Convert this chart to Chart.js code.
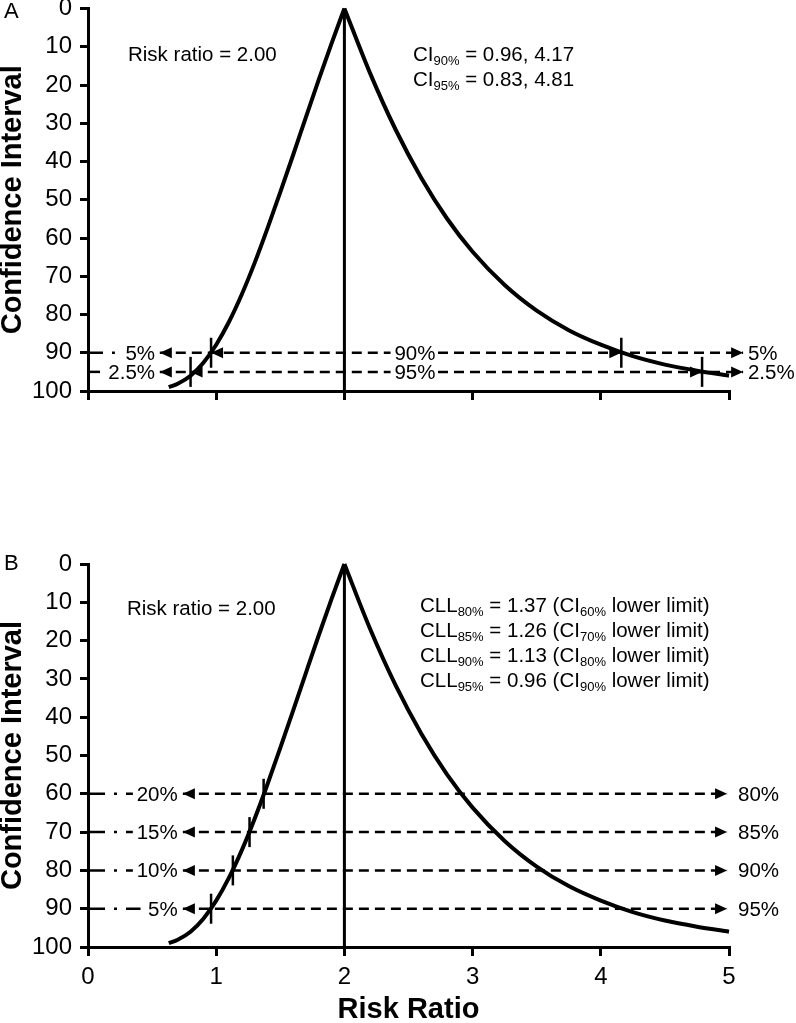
<!DOCTYPE html>
<html>
<head>
<meta charset="utf-8">
<script src="https://cdn.jsdelivr.net/npm/chart.js@4.4.1/dist/chart.umd.min.js"></script>
<style>
  html, body { margin: 0; padding: 0; background: #fff; }
  body { width: 796px; height: 1023px; position: relative; overflow: hidden; }
  canvas { position: absolute; left: 0; }
  #chartA { top: -9px; }
  #chartB { top: 440px; }
</style>
</head>
<body>
<canvas id="chartA" width="796" height="449"></canvas>
<canvas id="chartB" width="796" height="583"></canvas>
<script>
// curve: confidence level (%) against risk ratio
const curveLeftX  = [0.63, 0.7, 0.8, 0.9, 1.0, 1.1, 1.2, 1.3, 1.4, 1.5, 1.6, 1.7, 1.8, 1.9, 2.0];
const curveLeftY  = [99.0, 98.1, 96.0, 92.6, 87.9, 81.9, 74.7, 66.5, 57.5, 48.0, 38.3, 28.4, 18.6, 9.1, 0];
const curveRightX = [2.0, 2.2, 2.4, 2.6, 2.8, 3.0, 3.25, 3.5, 3.75, 4.0, 4.25, 4.5, 4.75, 5.0];
const curveRightY = [0, 16.9, 31.7, 44.3, 54.9, 63.6, 72.3, 79.0, 84.1, 87.9, 90.9, 93.1, 94.7, 96.0];

const riskRatio = 2.0;
const xTicks = [0, 1, 2, 3, 4, 5];
const yTicks = [0, 10, 20, 30, 40, 50, 60, 70, 80, 90, 100];

// panel A: two-sided intervals
const levelsA = [90, 95];
const lowerA = [0.96, 0.80];
const upperA = [4.16, 4.79];
const tailLabelsA = ["5%", "2.5%"];
const centreLabelsA = ["90%", "95%"];
const ciTextA = [["90%", " = 0.96, 4.17"], ["95%", " = 0.83, 4.81"]];

// panel B: confidence lower limits
const levelsB = [60, 70, 80, 90];
const cllB = [1.37, 1.26, 1.13, 0.96];
const leftLabelsB = ["20%", "15%", "10%", "5%"];
const rightLabelsB = ["80%", "85%", "90%", "95%"];
const cllTextB = [["80%", "1.37", "60%"], ["85%", "1.26", "70%"], ["90%", "1.13", "80%"], ["95%", "0.96", "90%"]];

// where the arrows / labels sit (in axis units)
const geoA = { leadEnd: [0.21, 0.094], arrowL: 0.56, labelL: 0.523, gapL: 2.36, gapR: 2.73, centre: 2.55, arrowR: 5.11, labelR: 5.148 };
const geoB = { leadEnd: [0.35, 0.35, 0.35, 0.41], arrowL: 0.74, labelL: 0.70, arrowR: 4.985, labelR: 5.07 };

const FONT = '"Liberation Sans", Arial, Helvetica, sans-serif';
Chart.defaults.font.family = FONT;
Chart.defaults.color = '#000';

const pts = (xs, ys) => xs.map((x, i) => ({ x: x, y: ys[i] }));

function seg(data, extra) {
  return Object.assign({
    data: data, showLine: true, borderColor: '#000', borderWidth: 2.5,
    pointRadius: 0, clip: false, fill: false
  }, extra || {});
}

function drawRich(ctx, parts, px, py, align) {
  const main = '20.5px ' + FONT;
  const sub = '13px ' + FONT;
  const items = parts.map(p => typeof p === 'string' ? { t: p, f: main, dy: 0 } : { t: p.sub, f: sub, dy: 4 });
  let w = 0;
  items.forEach(it => { ctx.font = it.f; it.w = ctx.measureText(it.t).width; w += it.w; });
  let cx = align === 'right' ? px - w : align === 'center' ? px - w / 2 : px;
  ctx.textAlign = 'left';
  ctx.textBaseline = 'alphabetic';
  items.forEach(it => { ctx.font = it.f; ctx.fillText(it.t, cx, py + 7 + it.dy); cx += it.w; });
}

const overlay = {
  id: 'overlay',
  afterDatasetsDraw(chart, args, opts) {
    const ctx = chart.ctx, xs = chart.scales.x, ys = chart.scales.y;
    ctx.save();
    ctx.fillStyle = '#000';
    (opts.arrows || []).forEach(a => {
      const px = xs.getPixelForValue(a.x), py = ys.getPixelForValue(a.y);
      ctx.beginPath();
      ctx.moveTo(px, py);
      ctx.lineTo(px - a.dir * 12, py - 5.5);
      ctx.lineTo(px - a.dir * 12, py + 5.5);
      ctx.closePath();
      ctx.fill();
    });
    (opts.texts || []).forEach(t => {
      drawRich(ctx, t.parts, xs.getPixelForValue(t.x), ys.getPixelForValue(t.y), t.align);
    });
    if (opts.panel) {
      ctx.font = '22px ' + FONT;
      ctx.textAlign = 'left';
      ctx.textBaseline = 'middle';
      ctx.fillText(opts.panel.text, 4, opts.panel.y);
    }
    ctx.restore();
  }
};

function scales(xLabels, xHeight) {
  const grid = { drawOnChartArea: false, drawTicks: true, color: '#000', lineWidth: 3 };
  return {
    x: {
      type: 'linear', min: 0, max: 5,
      afterBuildTicks: s => { s.ticks = xTicks.map(v => ({ value: v })); },
      afterFit: s => { s.height = xHeight; },
      ticks: { font: { size: 24 }, padding: 7, maxRotation: 0, autoSkip: false,
               callback: v => xLabels ? String(v) : '' },
      grid: Object.assign({ tickLength: 9 }, grid),
      border: { display: true, color: '#000', width: 3 },
      title: { display: xLabels, text: 'Risk Ratio', color: '#000',
               font: { size: 29, weight: 'bold', lineHeight: 0.9 }, padding: 0 }
    },
    y: {
      type: 'linear', min: 0, max: 100, reverse: true,
      afterBuildTicks: s => { s.ticks = yTicks.map(v => ({ value: v })); },
      afterFit: s => { s.width = 88; s.paddingTop = 0; s.paddingBottom = 0; },
      ticks: { font: { size: 24 }, padding: 8, autoSkip: false },
      grid: Object.assign({ tickLength: 8 }, grid),
      border: { display: true, color: '#000', width: 3 },
      title: { display: true, text: 'Confidence Interval', color: '#000',
               font: { size: 29, weight: 'bold', lineHeight: 0.9 }, padding: 0 }
    }
  };
}

function baseDatasets() {
  return [
    seg(pts(curveLeftX, curveLeftY), { borderWidth: 4, cubicInterpolationMode: 'monotone' }),
    seg(pts(curveRightX, curveRightY), { borderWidth: 4, cubicInterpolationMode: 'monotone' }),
    seg([{ x: riskRatio, y: 0 }, { x: riskRatio, y: 100 }], { borderWidth: 3 })
  ];
}

// ---------- panel A ----------
const dsA = baseDatasets();
dsA.push({
  data: levelsA.flatMap((l, i) => [{ x: lowerA[i], y: l }, { x: upperA[i], y: l }]),
  showLine: false, pointStyle: 'line', pointRadius: 15, pointRotation: 90,
  pointBorderWidth: 2.5, pointBorderColor: '#000', clip: false
});
levelsA.forEach((l, i) => {
  const dash = { borderDash: [10, 6] };
  dsA.push(seg([{ x: geoA.arrowL, y: l }, { x: geoA.gapL, y: l }], dash));
  dsA.push(seg([{ x: geoA.gapR, y: l }, { x: geoA.arrowR, y: l }], dash));
  dsA.push(seg([{ x: 0, y: l }, { x: geoA.leadEnd[i], y: l }], { borderDash: i === 0 ? [15, 9, 3, 40] : [] }));
});
const arrowsA = levelsA.flatMap((l, i) => [
  { x: geoA.arrowL, y: l, dir: -1 }, { x: lowerA[i], y: l, dir: -1 },
  { x: upperA[i], y: l, dir: 1 }, { x: geoA.arrowR, y: l, dir: 1 }
]);
const textsA = [
  { x: 0.312, y: 11.85, parts: ['Risk ratio = ' + riskRatio.toFixed(2)] },
  { x: 2.535, y: 11.85, parts: ['CI', { sub: ciTextA[0][0] }, ciTextA[0][1]] },
  { x: 2.535, y: 18.5, parts: ['CI', { sub: ciTextA[1][0] }, ciTextA[1][1]] }
];
levelsA.forEach((l, i) => {
  textsA.push({ x: geoA.labelL, y: l, parts: [tailLabelsA[i]], align: 'right' });
  textsA.push({ x: geoA.centre, y: l, parts: [centreLabelsA[i]], align: 'center' });
  textsA.push({ x: geoA.labelR, y: l, parts: [tailLabelsA[i]] });
});

new Chart(document.getElementById('chartA'), {
  type: 'scatter',
  data: { datasets: dsA },
  options: {
    responsive: false, animation: false, events: [],
    layout: { padding: { left: 0, right: 67, top: 7, bottom: 0 } },
    plugins: { legend: { display: false }, tooltip: { enabled: false },
               overlay: { arrows: arrowsA, texts: textsA, panel: { text: 'A', y: 21 } } },
    scales: scales(false, 49)
  },
  plugins: [overlay]
});

// ---------- panel B ----------
const dsB = baseDatasets();
dsB.push({
  data: pts(cllB, levelsB),
  showLine: false, pointStyle: 'line', pointRadius: 15, pointRotation: 90,
  pointBorderWidth: 2.5, pointBorderColor: '#000', clip: false
});
levelsB.forEach((l, i) => {
  dsB.push(seg([{ x: geoB.arrowL, y: l }, { x: geoB.arrowR, y: l }], { borderDash: [10, 6] }));
  dsB.push(seg([{ x: 0, y: l }, { x: geoB.leadEnd[i], y: l }], { borderDash: [17, 9, 3, 9] }));
});
const arrowsB = levelsB.flatMap(l => [{ x: geoB.arrowL, y: l, dir: -1 }, { x: geoB.arrowR, y: l, dir: 1 }]);
const textsB = [{ x: 0.304, y: 11.5, parts: ['Risk ratio = ' + riskRatio.toFixed(2)] }];
const cllY = [10.7, 17.2, 23.8, 30.3];
cllTextB.forEach((c, i) => {
  textsB.push({ x: 2.59, y: cllY[i], parts: ['CLL', { sub: c[0] }, ' = ' + c[1] + ' (CI', { sub: c[2] }, ' lower limit)'] });
});
levelsB.forEach((l, i) => {
  textsB.push({ x: geoB.labelL, y: l, parts: [leftLabelsB[i]], align: 'right' });
  textsB.push({ x: geoB.labelR, y: l, parts: [rightLabelsB[i]] });
});

new Chart(document.getElementById('chartB'), {
  type: 'scatter',
  data: { datasets: dsB },
  options: {
    responsive: false, animation: false, events: [],
    layout: { padding: { left: 0, right: 67, top: 124, bottom: 0 } },
    plugins: { legend: { display: false }, tooltip: { enabled: false },
               overlay: { arrows: arrowsB, texts: textsB, panel: { text: 'B', y: 124 } } },
    scales: scales(true, 76)
  },
  plugins: [overlay]
});
</script>
</body>
</html>
